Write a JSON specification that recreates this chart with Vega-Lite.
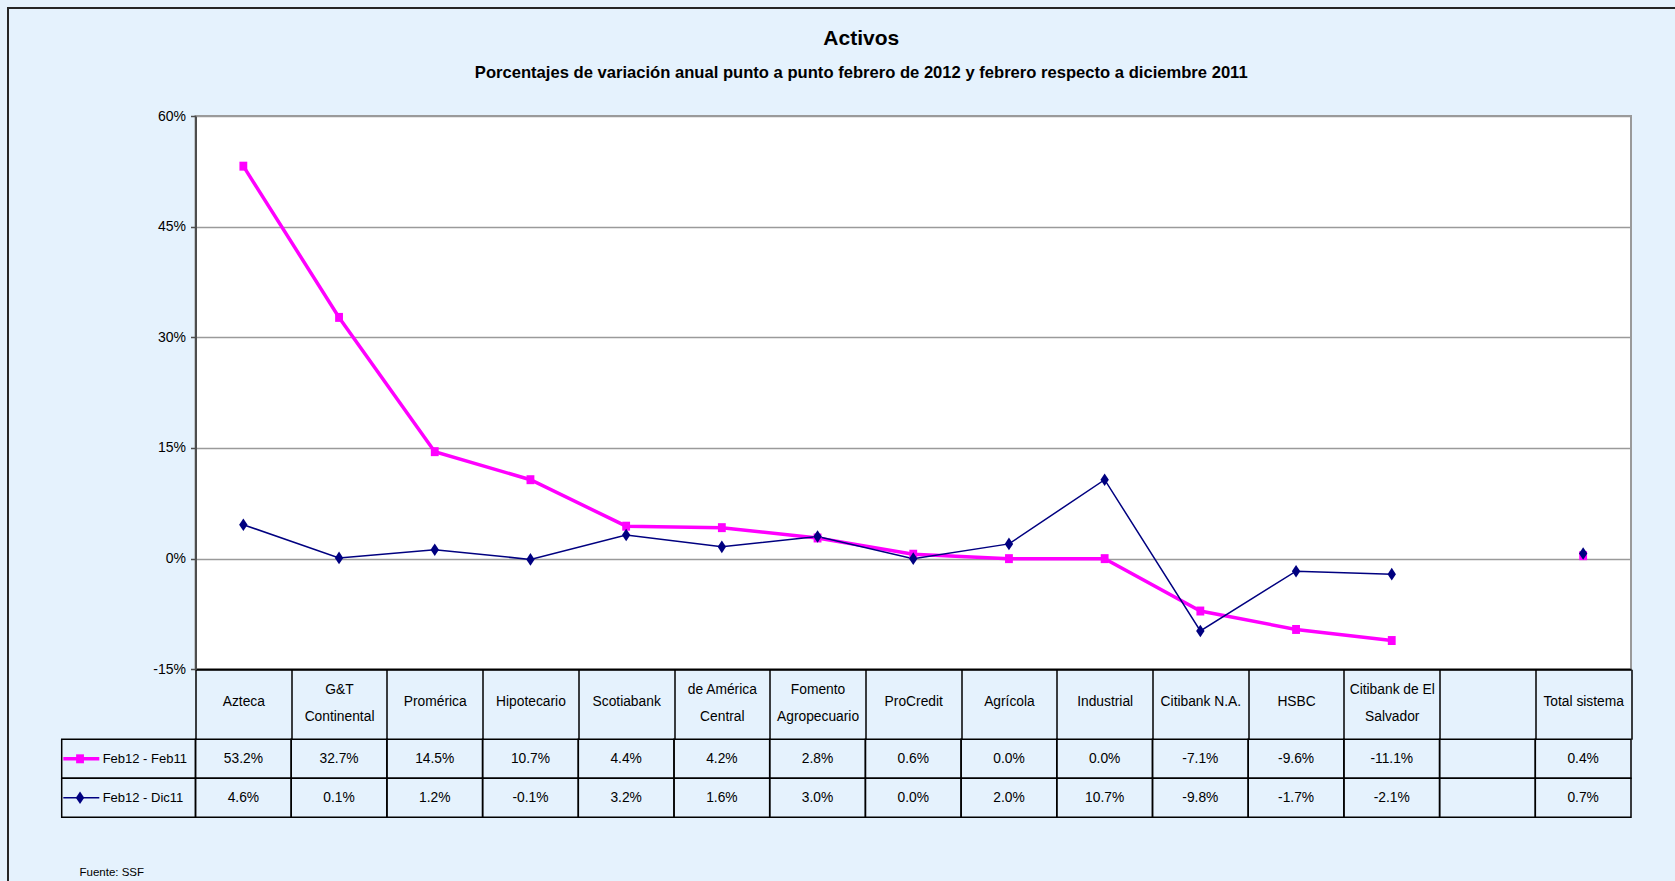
{
  "$schema": "https://vega.github.io/schema/vega-lite/v6.json",
  "autosize": {"type": "none"},
  "width": 1435.5,
  "height": 553.3,
  "padding": {"left": 195.5, "top": 116, "right": 44, "bottom": 211.7},
  "background": "#E5F2FD",
  "config": {
    "font": "Liberation Sans, Arial, sans-serif",
    "view": {"stroke": "#9a9a9a", "strokeWidth": 2, "fill": "white"}
  },
  "title": {
    "text": "Activos",
    "subtitle": "Porcentajes de variación anual punto a punto febrero de 2012 y febrero respecto a diciembre 2011",
    "anchor": "middle",
    "frame": "group",
    "dx": -52,
    "offset": -75,
    "fontSize": 21,
    "fontWeight": "bold",
    "color": "black",
    "subtitleFontSize": 16.6,
    "subtitleFontWeight": "bold",
    "subtitleColor": "black",
    "subtitlePadding": 16
  },
  "datasets": {
    "d": [
      {"banco": "Azteca", "serie": "Feb12 - Feb11", "v": 53.2},
      {"banco": "Azteca", "serie": "Feb12 - Dic11", "v": 4.6},
      {"banco": "G&T Continental", "serie": "Feb12 - Feb11", "v": 32.7},
      {"banco": "G&T Continental", "serie": "Feb12 - Dic11", "v": 0.1},
      {"banco": "Promérica", "serie": "Feb12 - Feb11", "v": 14.5},
      {"banco": "Promérica", "serie": "Feb12 - Dic11", "v": 1.2},
      {"banco": "Hipotecario", "serie": "Feb12 - Feb11", "v": 10.7},
      {"banco": "Hipotecario", "serie": "Feb12 - Dic11", "v": -0.1},
      {"banco": "Scotiabank", "serie": "Feb12 - Feb11", "v": 4.4},
      {"banco": "Scotiabank", "serie": "Feb12 - Dic11", "v": 3.2},
      {"banco": "de América Central", "serie": "Feb12 - Feb11", "v": 4.2},
      {"banco": "de América Central", "serie": "Feb12 - Dic11", "v": 1.6},
      {"banco": "Fomento Agropecuario", "serie": "Feb12 - Feb11", "v": 2.8},
      {"banco": "Fomento Agropecuario", "serie": "Feb12 - Dic11", "v": 3.0},
      {"banco": "ProCredit", "serie": "Feb12 - Feb11", "v": 0.6},
      {"banco": "ProCredit", "serie": "Feb12 - Dic11", "v": 0.0},
      {"banco": "Agrícola", "serie": "Feb12 - Feb11", "v": 0.0},
      {"banco": "Agrícola", "serie": "Feb12 - Dic11", "v": 2.0},
      {"banco": "Industrial", "serie": "Feb12 - Feb11", "v": 0.0},
      {"banco": "Industrial", "serie": "Feb12 - Dic11", "v": 10.7},
      {"banco": "Citibank N.A.", "serie": "Feb12 - Feb11", "v": -7.1},
      {"banco": "Citibank N.A.", "serie": "Feb12 - Dic11", "v": -9.8},
      {"banco": "HSBC", "serie": "Feb12 - Feb11", "v": -9.6},
      {"banco": "HSBC", "serie": "Feb12 - Dic11", "v": -1.7},
      {"banco": "Citibank de El Salvador", "serie": "Feb12 - Feb11", "v": -11.1},
      {"banco": "Citibank de El Salvador", "serie": "Feb12 - Dic11", "v": -2.1},
      {"banco": " ", "serie": "Feb12 - Feb11", "v": null},
      {"banco": " ", "serie": "Feb12 - Dic11", "v": null},
      {"banco": "Total sistema", "serie": "Feb12 - Feb11", "v": 0.4},
      {"banco": "Total sistema", "serie": "Feb12 - Dic11", "v": 0.7}
    ]
  },
  "resolve": {"scale": {"x": "independent", "y": "independent"}},
  "layer": [
    {
      "data": {"values": [{}]},
      "mark": {"type": "rect", "filled": false, "color": "#262626", "strokeWidth": 2},
      "encoding": {
        "x": {"datum": 0, "type": "quantitative", "scale": {"domain": [0, 1], "range": [-187.5, 1500]}, "axis": null},
        "x2": {"datum": 1},
        "y": {"datum": 0, "type": "quantitative", "scale": {"domain": [0, 1], "range": [-108, 800]}, "axis": null},
        "y2": {"datum": 1}
      }
    },
    {
      "data": {"name": "d"},
      "mark": {"type": "line", "invalid": "break-paths-show-domains"},
      "encoding": {
        "x": {
          "field": "banco", "type": "nominal", "bandPosition": 0.5,
          "sort": ["Azteca", "G&T Continental", "Promérica", "Hipotecario", "Scotiabank", "de América Central", "Fomento Agropecuario", "ProCredit", "Agrícola", "Industrial", "Citibank N.A.", "HSBC", "Citibank de El Salvador", " ", "Total sistema"],
          "scale": {"type": "band", "paddingInner": 0, "paddingOuter": 0},
          "axis": {
            "orient": "bottom",
            "title": "Fuente: SSF",
            "titleX": -116.5,
            "titleY": 205.7,
            "titleAlign": "left",
            "titleAnchor": "start",
            "titleBaseline": "alphabetic",
            "titleFontSize": 11.5,
            "titleFontWeight": "normal",
            "titleColor": "black",
            "domainColor": "#000000",
            "domainWidth": 2,
            "ticks": true,
            "tickBand": "extent",
            "tickSize": 70,
            "tickColor": "#000000",
            "tickWidth": 1.5,
            "labelAngle": 0,
            "labelPadding": {"condition": {"test": "indexof(['G&T Continental', 'de América Central', 'Fomento Agropecuario', 'Citibank de El Salvador'], datum.value) >= 0", "value": -49.5}, "value": -37.6},
            "labelBaseline": "middle",
            "labelFontSize": 13.8,
            "labelColor": "black",
            "labelLineHeight": 27,
            "labelOverlap": false,
            "labelBound": false,
            "labelFlush": false,
            "labelLimit": 0,
            "grid": false,
            "labelExpr": "datum.label == 'G&T Continental' ? ['G&T', 'Continental'] : datum.label == 'de América Central' ? ['de América', 'Central'] : datum.label == 'Fomento Agropecuario' ? ['Fomento', 'Agropecuario'] : datum.label == 'Citibank de El Salvador' ? ['Citibank de El', 'Salvador'] : datum.label"
          }
        },
        "y": {
          "field": "v", "type": "quantitative",
          "scale": {"domain": [-15, 60], "nice": false, "zero": false},
          "axis": {
            "title": null,
            "values": [-15, 0, 15, 30, 45, 60],
            "labelExpr": "datum.value + '%'",
            "grid": true,
            "gridColor": "#9a9a9a",
            "gridWidth": 1.5,
            "domainColor": "#4d4d4d",
            "domainWidth": 2,
            "tickColor": "#4d4d4d",
            "tickSize": 5,
            "tickWidth": 1.5,
            "labelFontSize": 14,
            "labelPadding": 5,
            "labelColor": "black"
          }
        },
        "color": {"field": "serie", "type": "nominal", "scale": {"domain": ["Feb12 - Feb11", "Feb12 - Dic11"], "range": ["#FF00FF", "#000080"]}, "legend": null},
        "strokeWidth": {"field": "serie", "type": "ordinal", "scale": {"domain": ["Feb12 - Feb11", "Feb12 - Dic11"], "range": [3.5, 1.5]}, "legend": null}
      }
    },
    {
      "data": {"name": "d"},
      "transform": [{"filter": "datum.v != null"}],
      "mark": {"type": "point", "filled": true, "opacity": 1, "size": 196},
      "encoding": {
        "x": {
          "field": "banco", "type": "nominal", "bandPosition": 0.5,
          "scale": {"type": "band", "paddingInner": 0, "paddingOuter": 0, "domain": ["Azteca", "G&T Continental", "Promérica", "Hipotecario", "Scotiabank", "de América Central", "Fomento Agropecuario", "ProCredit", "Agrícola", "Industrial", "Citibank N.A.", "HSBC", "Citibank de El Salvador", " ", "Total sistema"]},
          "axis": null
        },
        "y": {"field": "v", "type": "quantitative", "scale": {"domain": [-15, 60], "nice": false, "zero": false}, "axis": null},
        "color": {"field": "serie", "type": "nominal", "scale": {"domain": ["Feb12 - Feb11", "Feb12 - Dic11"], "range": ["#FF00FF", "#000080"]}, "legend": null},
        "shape": {"field": "serie", "type": "nominal", "scale": {"domain": ["Feb12 - Feb11", "Feb12 - Dic11"], "range": ["M-0.56,-0.64H0.56V0.64H-0.56Z", "M0,-0.9L0.6,0L0,0.9L-0.6,0Z"]}, "legend": null}
      }
    },
    {
      "data": {"name": "d"},
      "mark": {"type": "rect", "filled": false, "color": "#000000", "strokeWidth": 1.5},
      "encoding": {
        "x": {
          "field": "banco", "type": "nominal",
          "scale": {"type": "band", "paddingInner": 0, "paddingOuter": 0, "domain": ["Azteca", "G&T Continental", "Promérica", "Hipotecario", "Scotiabank", "de América Central", "Fomento Agropecuario", "ProCredit", "Agrícola", "Industrial", "Citibank N.A.", "HSBC", "Citibank de El Salvador", " ", "Total sistema"]},
          "axis": null
        },
        "y": {"field": "serie", "type": "nominal", "scale": {"type": "band", "domain": ["Feb12 - Feb11", "Feb12 - Dic11"], "range": [623.3, 701.3], "paddingInner": 0, "paddingOuter": 0}, "axis": null}
      }
    },
    {
      "data": {"name": "d"},
      "transform": [
        {"filter": "datum.v != null"},
        {"calculate": "(datum.v < 0 ? '-' : '') + format(abs(datum.v), '.1f') + '%'", "as": "lbl"}
      ],
      "mark": {"type": "text", "fontSize": 13.8, "color": "black", "baseline": "middle", "align": "center"},
      "encoding": {
        "x": {
          "field": "banco", "type": "nominal", "bandPosition": 0.5,
          "scale": {"type": "band", "paddingInner": 0, "paddingOuter": 0, "domain": ["Azteca", "G&T Continental", "Promérica", "Hipotecario", "Scotiabank", "de América Central", "Fomento Agropecuario", "ProCredit", "Agrícola", "Industrial", "Citibank N.A.", "HSBC", "Citibank de El Salvador", " ", "Total sistema"]},
          "axis": null
        },
        "y": {"field": "serie", "type": "nominal", "bandPosition": 0.5, "scale": {"type": "band", "domain": ["Feb12 - Feb11", "Feb12 - Dic11"], "range": [623.3, 701.3], "paddingInner": 0, "paddingOuter": 0}, "axis": null},
        "text": {"field": "lbl", "type": "nominal"}
      }
    },
    {
      "data": {"values": [{"serie": "Feb12 - Feb11"}, {"serie": "Feb12 - Dic11"}]},
      "layer": [
        {
          "mark": {"type": "rect", "filled": false, "color": "#000000", "strokeWidth": 1.5},
          "encoding": {
            "x": {"datum": 0, "type": "quantitative", "scale": {"domain": [0, 1], "range": [-133.8, 0]}, "axis": null},
            "x2": {"datum": 1},
            "y": {"field": "serie", "type": "nominal", "scale": {"type": "band", "domain": ["Feb12 - Feb11", "Feb12 - Dic11"], "range": [623.3, 701.3], "paddingInner": 0, "paddingOuter": 0}, "axis": null}
          }
        },
        {
          "mark": {"type": "rule"},
          "encoding": {
            "x": {"datum": 0.012, "type": "quantitative", "scale": {"domain": [0, 1], "range": [-133.8, 0]}, "axis": null},
            "x2": {"datum": 0.281},
            "y": {"field": "serie", "type": "nominal", "bandPosition": 0.5, "scale": {"type": "band", "domain": ["Feb12 - Feb11", "Feb12 - Dic11"], "range": [623.3, 701.3], "paddingInner": 0, "paddingOuter": 0}, "axis": null},
            "color": {"field": "serie", "type": "nominal", "scale": {"domain": ["Feb12 - Feb11", "Feb12 - Dic11"], "range": ["#FF00FF", "#000080"]}, "legend": null},
            "strokeWidth": {"field": "serie", "type": "ordinal", "scale": {"domain": ["Feb12 - Feb11", "Feb12 - Dic11"], "range": [3.5, 1.5]}, "legend": null}
          }
        },
        {
          "mark": {"type": "point", "filled": true, "opacity": 1, "size": 196},
          "encoding": {
            "x": {"datum": 0.137, "type": "quantitative", "scale": {"domain": [0, 1], "range": [-133.8, 0]}, "axis": null},
            "y": {"field": "serie", "type": "nominal", "bandPosition": 0.5, "scale": {"type": "band", "domain": ["Feb12 - Feb11", "Feb12 - Dic11"], "range": [623.3, 701.3], "paddingInner": 0, "paddingOuter": 0}, "axis": null},
            "color": {"field": "serie", "type": "nominal", "scale": {"domain": ["Feb12 - Feb11", "Feb12 - Dic11"], "range": ["#FF00FF", "#000080"]}, "legend": null},
            "shape": {"field": "serie", "type": "nominal", "scale": {"domain": ["Feb12 - Feb11", "Feb12 - Dic11"], "range": ["M-0.56,-0.64H0.56V0.64H-0.56Z", "M0,-0.9L0.6,0L0,0.9L-0.6,0Z"]}, "legend": null}
          }
        },
        {
          "mark": {"type": "text", "fontSize": 13, "color": "black", "baseline": "middle", "align": "left"},
          "encoding": {
            "x": {"datum": 0.306, "type": "quantitative", "scale": {"domain": [0, 1], "range": [-133.8, 0]}, "axis": null},
            "y": {"field": "serie", "type": "nominal", "bandPosition": 0.5, "scale": {"type": "band", "domain": ["Feb12 - Feb11", "Feb12 - Dic11"], "range": [623.3, 701.3], "paddingInner": 0, "paddingOuter": 0}, "axis": null},
            "text": {"field": "serie", "type": "nominal"}
          }
        }
      ]
    }
  ]
}
